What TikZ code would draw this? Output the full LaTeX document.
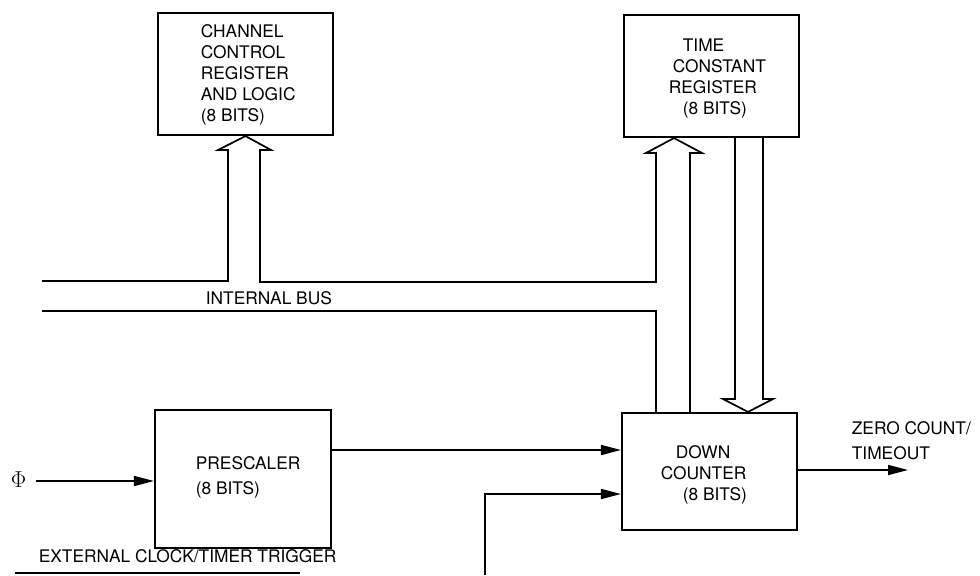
\documentclass[tikz,border=0pt]{standalone}
\usepackage{fontspec}
\setmainfont{TeX Gyre Heros}
\usetikzlibrary{arrows.meta}
\begin{document}
\begin{tikzpicture}[x=0.75pt,y=-0.75pt,
  line width=1.3pt, line join=miter,
  box/.style={draw, line width=1.6pt, inner sep=0pt},
  txt/.style={font=\fontsize{13}{15.75}\selectfont, inner sep=0pt, align=left, anchor=west},
  arr/.style={-{Triangle[length=15pt,width=7.5pt]}}]
\fill[white] (0,0) rectangle (980,575);
\useasboundingbox (0,0) rectangle (980,575);
% blocks
\node[box, minimum width=131.25pt, minimum height=91.5pt] (ccr) at (245.5,74) {};
\node[box, minimum width=131.25pt, minimum height=91.5pt] (tcr) at (711.5,76) {};
\node[box, minimum width=131.25pt, minimum height=87.75pt] (dc) at (709.5,471.5) {};
\node[box, minimum width=132pt, minimum height=103.5pt] (pre) at (243,479) {};
% texts
\node[txt] (tccr) at (200,75) {CHANNEL\\CONTROL\\REGISTER\\AND LOGIC\\(8 BITS)};
\node[txt] (ttcr) at (668,78.5) {\hspace*{10.5pt}TIME\\\hspace*{3pt}CONSTANT\\REGISTER\\\hspace*{10.5pt}(8 BITS)};
\node[txt] (tdc) at (660,474.5) {\hspace*{11.25pt}DOWN\\COUNTER\\\hspace*{16.5pt}(8 BITS)};
\node[txt] (tpre) at (195,477.5) {PRESCALER\\[3pt](8 BITS)};
\node[txt] (tzero) at (851,440.5) {ZERO COUNT/\\[3pt]TIMEOUT};
\node[txt] (tbus) at (205,298) {INTERNAL BUS};
\node[txt] (tex) at (38,556) {EXTERNAL CLOCK/TIMER TRIGGER};
\node[txt, font=\fontsize{16}{18}\selectfont] (phi) at (10,480) {$\Phi$};
\coordinate (out) at (908,470);
\coordinate (extb) at (485,575);
% internal bus, upper line with the two bus arrows
\draw (42,281) -- (228,281) -- (228,150) -- (218,150) -- (ccr.south) -- (271,150) -- (260,150)
  -- (260,282) -- (656,282) -- (656,153) -- (646,153) -- (674,0 |- tcr.south) -- (702,153)
  -- (690,153) -- (690,0 |- dc.north);
% internal bus, lower line
\draw (42,311) -- (656,311) -- (656,0 |- dc.north);
% time constant register to down counter
\draw (735,0 |- tcr.south) -- (735,399) -- (723,399) -- (748,0 |- dc.north) -- (773,399)
  -- (763,399) -- (763,0 |- tcr.south);
% signals
\draw[arr] ([xshift=7pt]phi.east |- 0,481) -- (pre.west |- 0,481);
\draw[arr] (pre.east |- 0,450) -- (dc.west |- 0,450);
\draw[arr] (dc.east |- out) -- (out);
\draw[arr] (extb) -- (485,494) -- (dc.west |- 0,494);
\draw (15,573) -- (300,573);
\end{tikzpicture}
\end{document}
